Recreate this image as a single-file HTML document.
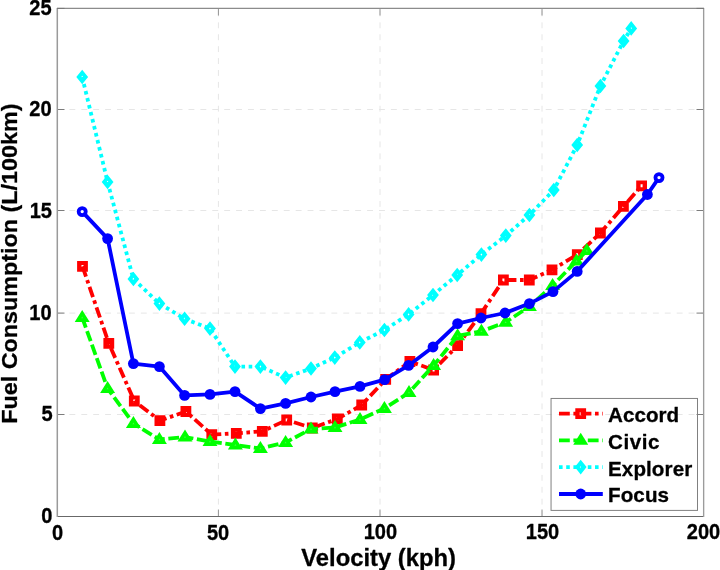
<!DOCTYPE html>
<html lang="en"><head><meta charset="utf-8"><title>Fuel Consumption vs Velocity</title>
<style>
html,body{margin:0;padding:0;background:#fff;}
body{width:720px;height:570px;overflow:hidden;}
svg{display:block;}
text{font-family:"Liberation Sans",sans-serif;font-weight:bold;fill:#000;stroke:#000;stroke-width:0.3px;stroke-linejoin:round;}
.tk{font-size:20.6px;}
.lb{font-size:23.8px;}
.lg{font-size:20.6px;}
</style></head><body>
<svg width="720" height="570" viewBox="0 0 720 570">
<rect x="0" y="0" width="720" height="570" fill="#fff"/>
<g stroke="#e6e6e6" stroke-width="1" stroke-dasharray="5.9 6.008" fill="none">
<line x1="218.42" y1="516.5" x2="218.42" y2="8.5"/>
<line x1="380" y1="516.5" x2="380" y2="8.5"/>
<line x1="542.03" y1="516.5" x2="542.03" y2="8.5"/>
<line x1="57.5" y1="414.5" x2="703.5" y2="414.5"/>
<line x1="57.5" y1="313.1" x2="703.5" y2="313.1"/>
<line x1="57.5" y1="210.5" x2="703.5" y2="210.5"/>
<line x1="57.5" y1="109.5" x2="703.5" y2="109.5"/>
</g>
<g stroke="#959595" stroke-width="1" fill="none">
<line x1="218.42" y1="516.5" x2="218.42" y2="509.5"/>
<line x1="218.42" y1="8.5" x2="218.42" y2="15.5"/>
<line x1="380" y1="516.5" x2="380" y2="509.5"/>
<line x1="380" y1="8.5" x2="380" y2="15.5"/>
<line x1="542.03" y1="516.5" x2="542.03" y2="509.5"/>
<line x1="542.03" y1="8.5" x2="542.03" y2="15.5"/>
</g>
<g stroke="#7c7c7c" stroke-width="1" fill="none">
<line x1="57.5" y1="414.5" x2="64.5" y2="414.5"/>
<line x1="703.5" y1="414.5" x2="696.5" y2="414.5"/>
<line x1="57.5" y1="313.1" x2="64.5" y2="313.1"/>
<line x1="703.5" y1="313.1" x2="696.5" y2="313.1"/>
<line x1="57.5" y1="210.5" x2="64.5" y2="210.5"/>
<line x1="703.5" y1="210.5" x2="696.5" y2="210.5"/>
<line x1="57.5" y1="109.5" x2="64.5" y2="109.5"/>
<line x1="703.5" y1="109.5" x2="696.5" y2="109.5"/>
</g>
<g fill="none">
<path d="M57 8.35H704" stroke="#8c8c8c" stroke-width="1.2"/>
<path d="M57 516.5H704" stroke="#686868" stroke-width="1"/>
<path d="M57.3 8V517" stroke="#9a9a9a" stroke-width="1.5"/>
<path d="M703.65 8V517" stroke="#9c9c9c" stroke-width="1.35"/>
<path d="M57 8.4H64.5M696.5 8.4H704" stroke="#777" stroke-width="1"/>
</g>
<polyline points="82.5,266.4 108.8,343.4 134.3,401 159.9,420.6 185.9,411.5 211.8,434.7 236.3,433.3 262.3,431.3 286.7,420 312.3,428 337.3,419 361.7,405 385.7,379.4 409.9,361.5 433.6,370 457.6,345.6 481,313.6 503.4,280 529.3,280 552,269.8 577.3,254.6 600.4,233 623.4,206.4 641.6,185.8" fill="none" stroke="#ff0000" stroke-width="3.8" stroke-dasharray="10.8 3.6 3.6 3.6" stroke-linejoin="round"/>
<path d="M77.1 261h10.8v10.8h-10.8zM81.5 264.9v3h2v-3zM103.4 338h10.8v10.8h-10.8zM107.8 341.9v3h2v-3zM128.9 395.6h10.8v10.8h-10.8zM133.3 399.5v3h2v-3zM154.5 415.2h10.8v10.8h-10.8zM158.9 419.1v3h2v-3zM180.5 406.1h10.8v10.8h-10.8zM184.9 410v3h2v-3zM206.4 429.3h10.8v10.8h-10.8zM210.8 433.2v3h2v-3zM230.9 427.9h10.8v10.8h-10.8zM235.3 431.8v3h2v-3zM256.9 425.9h10.8v10.8h-10.8zM261.3 429.8v3h2v-3zM281.3 414.6h10.8v10.8h-10.8zM285.7 418.5v3h2v-3zM306.9 422.6h10.8v10.8h-10.8zM311.3 426.5v3h2v-3zM331.9 413.6h10.8v10.8h-10.8zM336.3 417.5v3h2v-3zM356.3 399.6h10.8v10.8h-10.8zM360.7 403.5v3h2v-3zM380.3 374h10.8v10.8h-10.8zM384.7 377.9v3h2v-3zM404.5 356.1h10.8v10.8h-10.8zM408.9 360v3h2v-3zM428.2 364.6h10.8v10.8h-10.8zM432.6 368.5v3h2v-3zM452.2 340.2h10.8v10.8h-10.8zM456.6 344.1v3h2v-3zM475.6 308.2h10.8v10.8h-10.8zM480 312.1v3h2v-3zM498 274.6h10.8v10.8h-10.8zM502.4 278.5v3h2v-3zM523.9 274.6h10.8v10.8h-10.8zM528.3 278.5v3h2v-3zM546.6 264.4h10.8v10.8h-10.8zM551 268.3v3h2v-3zM571.9 249.2h10.8v10.8h-10.8zM576.3 253.1v3h2v-3zM595 227.6h10.8v10.8h-10.8zM599.4 231.5v3h2v-3zM618 201h10.8v10.8h-10.8zM622.4 204.9v3h2v-3zM636.2 180.4h10.8v10.8h-10.8zM640.6 184.3v3h2v-3z" fill="#ff0000" fill-rule="evenodd"/>
<polyline points="82.2,317.5 107.6,388.5 133.4,423.5 159.4,439.5 185,437 210,441.5 235.4,445 260.4,448.5 285.6,442.5 311,429 335,427.5 360,419.5 384.4,408.5 409,392.5 433.6,365.5 457.6,335.9 481.4,331.3 505.6,322.3 529.4,306.5 552.6,285.5 576.5,261 586.8,250.6" fill="none" stroke="#00ff00" stroke-width="3.8" stroke-dasharray="10.8 3.6" stroke-linejoin="round"/>
<path d="M82.2 309.9L89.7 321.9L74.7 321.9zM107.6 380.9L115.1 392.9L100.1 392.9zM133.4 415.9L140.9 427.9L125.9 427.9zM159.4 431.9L166.9 443.9L151.9 443.9zM185 429.4L192.5 441.4L177.5 441.4zM210 433.9L217.5 445.9L202.5 445.9zM235.4 437.4L242.9 449.4L227.9 449.4zM260.4 440.9L267.9 452.9L252.9 452.9zM285.6 434.9L293.1 446.9L278.1 446.9zM311 421.4L318.5 433.4L303.5 433.4zM335 419.9L342.5 431.9L327.5 431.9zM360 411.9L367.5 423.9L352.5 423.9zM384.4 400.9L391.9 412.9L376.9 412.9zM409 384.9L416.5 396.9L401.5 396.9zM433.6 357.9L441.1 369.9L426.1 369.9zM457.6 328.3L465.1 340.3L450.1 340.3zM481.4 323.7L488.9 335.7L473.9 335.7zM505.6 314.7L513.1 326.7L498.1 326.7zM529.4 298.9L536.9 310.9L521.9 310.9zM552.6 277.9L560.1 289.9L545.1 289.9zM576.5 253.4L584 265.4L569 265.4zM586.8 243L594.3 255L579.3 255z" fill="#00ff00" fill-rule="evenodd"/>
<path d="M82.2 316.5L83.2 318.3L81.2 318.3zM107.6 387.5L108.6 389.3L106.6 389.3zM133.4 422.5L134.4 424.3L132.4 424.3zM159.4 438.5L160.4 440.3L158.4 440.3zM185 436L186 437.8L184 437.8zM210 440.5L211 442.3L209 442.3zM235.4 444L236.4 445.8L234.4 445.8zM260.4 447.5L261.4 449.3L259.4 449.3zM285.6 441.5L286.6 443.3L284.6 443.3zM311 428L312 429.8L310 429.8zM335 426.5L336 428.3L334 428.3zM360 418.5L361 420.3L359 420.3zM384.4 407.5L385.4 409.3L383.4 409.3zM409 391.5L410 393.3L408 393.3zM433.6 364.5L434.6 366.3L432.6 366.3zM457.6 334.9L458.6 336.7L456.6 336.7zM481.4 330.3L482.4 332.1L480.4 332.1zM505.6 321.3L506.6 323.1L504.6 323.1zM529.4 305.5L530.4 307.3L528.4 307.3zM552.6 284.5L553.6 286.3L551.6 286.3zM576.5 260L577.5 261.8L575.5 261.8zM586.8 249.6L587.8 251.4L585.8 251.4z" fill="#fff" fill-opacity="0.25"/>
<polyline points="82.2,77 107.6,182 133.4,279 159.4,303.6 184.6,318.8 210,328.6 235,366.6 260.4,366.6 285.6,377.6 311,368.5 334.8,357.6 359.8,342.4 384.4,330 408.6,314.4 433,295 457.2,275 481.4,254.6 505.8,235.6 529.4,215 553.8,190 577.2,145 600.4,86 623.6,41 631.2,28.4" fill="none" stroke="#00ffff" stroke-width="3.8" stroke-dasharray="3.6 3.6" stroke-linejoin="round"/>
<path d="M82.2 69.7L88.1 77L82.2 84.3L76.3 77zM82.2 75.8L81.3 77L82.2 78.2L83.1 77zM107.6 174.7L113.5 182L107.6 189.3L101.7 182zM107.6 180.8L106.7 182L107.6 183.2L108.5 182zM133.4 271.7L139.3 279L133.4 286.3L127.5 279zM133.4 277.8L132.5 279L133.4 280.2L134.3 279zM159.4 296.3L165.3 303.6L159.4 310.9L153.5 303.6zM159.4 302.4L158.5 303.6L159.4 304.8L160.3 303.6zM184.6 311.5L190.5 318.8L184.6 326.1L178.7 318.8zM184.6 317.6L183.7 318.8L184.6 320L185.5 318.8zM210 321.3L215.9 328.6L210 335.9L204.1 328.6zM210 327.4L209.1 328.6L210 329.8L210.9 328.6zM235 359.3L240.9 366.6L235 373.9L229.1 366.6zM235 365.4L234.1 366.6L235 367.8L235.9 366.6zM260.4 359.3L266.3 366.6L260.4 373.9L254.5 366.6zM260.4 365.4L259.5 366.6L260.4 367.8L261.3 366.6zM285.6 370.3L291.5 377.6L285.6 384.9L279.7 377.6zM285.6 376.4L284.7 377.6L285.6 378.8L286.5 377.6zM311 361.2L316.9 368.5L311 375.8L305.1 368.5zM311 367.3L310.1 368.5L311 369.7L311.9 368.5zM334.8 350.3L340.7 357.6L334.8 364.9L328.9 357.6zM334.8 356.4L333.9 357.6L334.8 358.8L335.7 357.6zM359.8 335.1L365.7 342.4L359.8 349.7L353.9 342.4zM359.8 341.2L358.9 342.4L359.8 343.6L360.7 342.4zM384.4 322.7L390.3 330L384.4 337.3L378.5 330zM384.4 328.8L383.5 330L384.4 331.2L385.3 330zM408.6 307.1L414.5 314.4L408.6 321.7L402.7 314.4zM408.6 313.2L407.7 314.4L408.6 315.6L409.5 314.4zM433 287.7L438.9 295L433 302.3L427.1 295zM433 293.8L432.1 295L433 296.2L433.9 295zM457.2 267.7L463.1 275L457.2 282.3L451.3 275zM457.2 273.8L456.3 275L457.2 276.2L458.1 275zM481.4 247.3L487.3 254.6L481.4 261.9L475.5 254.6zM481.4 253.4L480.5 254.6L481.4 255.8L482.3 254.6zM505.8 228.3L511.7 235.6L505.8 242.9L499.9 235.6zM505.8 234.4L504.9 235.6L505.8 236.8L506.7 235.6zM529.4 207.7L535.3 215L529.4 222.3L523.5 215zM529.4 213.8L528.5 215L529.4 216.2L530.3 215zM553.8 182.7L559.7 190L553.8 197.3L547.9 190zM553.8 188.8L552.9 190L553.8 191.2L554.7 190zM577.2 137.7L583.1 145L577.2 152.3L571.3 145zM577.2 143.8L576.3 145L577.2 146.2L578.1 145zM600.4 78.7L606.3 86L600.4 93.3L594.5 86zM600.4 84.8L599.5 86L600.4 87.2L601.3 86zM623.6 33.7L629.5 41L623.6 48.3L617.7 41zM623.6 39.8L622.7 41L623.6 42.2L624.5 41zM631.2 21.1L637.1 28.4L631.2 35.7L625.3 28.4zM631.2 27.2L630.3 28.4L631.2 29.6L632.1 28.4z" fill="#00ffff" fill-rule="evenodd"/>
<polyline points="82.2,211.6 107.6,238.6 133.4,363.6 159.4,366.6 184.6,395.4 210,394.4 235,391.6 260.4,408.6 285.6,403.4 311,397 335,391.6 360,386.4 384.6,379.6 408.6,365.4 433,347 457.6,323.6 481,318 505,313 529.4,303.6 553,291.6 577.2,271.4 647.4,194.5 659,177.6" fill="none" stroke="#0000ff" stroke-width="3.8" stroke-linejoin="round"/>
<circle cx="82.2" cy="211.6" r="3.55" fill="#fff" stroke="#0000ff" stroke-width="3.8"/>
<circle cx="107.6" cy="238.6" r="5.4" fill="#0000ff"/>
<circle cx="133.4" cy="363.6" r="5.4" fill="#0000ff"/>
<circle cx="159.4" cy="366.6" r="5.4" fill="#0000ff"/>
<circle cx="184.6" cy="395.4" r="5.4" fill="#0000ff"/>
<circle cx="210" cy="394.4" r="5.4" fill="#0000ff"/>
<circle cx="235" cy="391.6" r="5.4" fill="#0000ff"/>
<circle cx="260.4" cy="408.6" r="5.4" fill="#0000ff"/>
<circle cx="285.6" cy="403.4" r="5.4" fill="#0000ff"/>
<circle cx="311" cy="397" r="5.4" fill="#0000ff"/>
<circle cx="335" cy="391.6" r="5.4" fill="#0000ff"/>
<circle cx="360" cy="386.4" r="5.4" fill="#0000ff"/>
<circle cx="384.6" cy="379.6" r="5.4" fill="#0000ff"/>
<circle cx="408.6" cy="365.4" r="5.4" fill="#0000ff"/>
<circle cx="433" cy="347" r="5.4" fill="#0000ff"/>
<circle cx="457.6" cy="323.6" r="5.4" fill="#0000ff"/>
<circle cx="481" cy="318" r="5.4" fill="#0000ff"/>
<circle cx="505" cy="313" r="5.4" fill="#0000ff"/>
<circle cx="529.4" cy="303.6" r="5.4" fill="#0000ff"/>
<circle cx="553" cy="291.6" r="5.4" fill="#0000ff"/>
<circle cx="577.2" cy="271.4" r="5.4" fill="#0000ff"/>
<circle cx="647.4" cy="194.5" r="5.4" fill="#0000ff"/>
<circle cx="659" cy="177.6" r="3.55" fill="#fff" stroke="#0000ff" stroke-width="3.8"/>
<rect x="551.05" y="398.45" width="146.45" height="111.95" fill="none" stroke="#808080" stroke-width="1"/>
<line x1="559" y1="413.7" x2="602.8" y2="413.7" stroke="#ff0000" stroke-width="3.8" stroke-dasharray="10.8 3.6 3.6 3.6"/>
<path d="M575.3 408.3h10.8v10.8h-10.8zM579.7 412.2v3h2v-3z" fill="#ff0000" fill-rule="evenodd"/>
<text class="lg" transform="translate(608 421.5) scale(1 1.01)" letter-spacing="0.05">Accord</text>
<line x1="559" y1="440.4" x2="602.8" y2="440.4" stroke="#00ff00" stroke-width="3.8" stroke-dasharray="10.8 3.6"/>
<path d="M580.7 432.8L588.2 444.8L573.2 444.8z" fill="#00ff00"/>
<text class="lg" transform="translate(608 448.9) scale(1 1.01)" letter-spacing="0.55">Civic</text>
<line x1="559" y1="467.1" x2="602.8" y2="467.1" stroke="#00ffff" stroke-width="3.8" stroke-dasharray="3.6 3.6"/>
<path d="M580.7 459.8L586.6 467.1L580.7 474.4L574.8 467.1zM580.7 465.9L579.8 467.1L580.7 468.3L581.6 467.1z" fill="#00ffff" fill-rule="evenodd"/>
<text class="lg" transform="translate(608 475.8) scale(1 1.01)" letter-spacing="0.1">Explorer</text>
<line x1="559" y1="494" x2="602.8" y2="494" stroke="#0000ff" stroke-width="3.8"/>
<circle cx="580.7" cy="494" r="5.4" fill="#0000ff"/>
<text class="lg" transform="translate(608 502.4) scale(1 1.01)" letter-spacing="0.1">Focus</text>
<text class="tk" transform="translate(57.5 539.65) scale(0.975 1.08)" text-anchor="middle">0</text>
<text class="tk" transform="translate(218.1 539.65) scale(0.975 1.08)" text-anchor="middle">50</text>
<text class="tk" transform="translate(380.4 539.35) scale(0.975 1.08)" text-anchor="middle">100</text>
<text class="tk" transform="translate(542.5 539.45) scale(0.975 1.08)" text-anchor="middle">150</text>
<text class="tk" transform="translate(703.5 539.45) scale(0.975 1.08)" text-anchor="middle">200</text>
<text class="tk" transform="translate(52.4 523.35) scale(0.975 1.08)" text-anchor="end">0</text>
<text class="tk" transform="translate(52.7 421.45) scale(0.975 1.08)" text-anchor="end">5</text>
<text class="tk" transform="translate(51.7 320) scale(0.975 1.08)" text-anchor="end">10</text>
<text class="tk" transform="translate(52 217.85) scale(0.975 1.08)" text-anchor="end">15</text>
<text class="tk" transform="translate(51.7 116) scale(0.975 1.08)" text-anchor="end">20</text>
<text class="tk" transform="translate(51.7 15.3) scale(0.975 1.08)" text-anchor="end">25</text>
<text class="lb" x="378.6" y="565.8" text-anchor="middle">Velocity (kph)</text>
<text class="lb" transform="translate(16.95 263.6) rotate(-90) scale(0.981 0.95)" text-anchor="middle">Fuel Consumption (L/100km)</text>
</svg>
</body></html>
